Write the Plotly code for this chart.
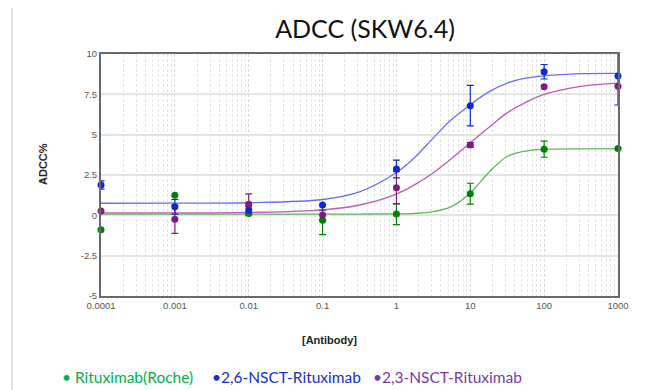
import plotly.graph_objects as go

# ---- data ----
conc = [0.0001, 0.001, 0.01, 0.1, 1, 10, 100, 1000]
roche_y = [-0.9, 1.25, 0.12, -0.3, 0.08, 1.34, 4.1, 4.15]
roche_err = [None, None, None, 0.9, 0.65, 0.65, 0.5, None]
nsct26_y = [1.88, 0.53, 0.33, 0.64, 2.87, 6.8, 8.9, 8.64]
nsct26_err = [0.25, 0.45, 0.2, None, 0.55, 1.25, 0.45, 1.8]
nsct23_y = [0.27, -0.25, 0.68, 0.02, 1.71, 4.36, 7.97, 8.0]
nsct23_err = [None, 0.87, 0.65, 0.3, 1.0, 0.15, None, None]

# fitted curves
fit_x = [0.0001, 0.001, 0.01, 0.1, 0.316, 1, 1.78, 3.16, 5.62, 10, 17.8, 31.6, 56.2, 100, 316, 1000]
roche_fit = [0.08, 0.08, 0.08, 0.08, 0.08, 0.09, 0.12, 0.23, 0.56, 1.39, 2.66, 3.65, 3.98, 4.09, 4.12, 4.13]
nsct26_fit = [0.75, 0.76, 0.78, 0.98, 1.45, 2.65, 3.6, 4.8, 5.95, 6.85, 7.65, 8.2, 8.5, 8.65, 8.78, 8.8]
nsct23_fit = [0.15, 0.15, 0.18, 0.34, 0.64, 1.32, 1.9, 2.64, 3.54, 4.5, 5.45, 6.35, 7.0, 7.5, 8.0, 8.2]

names = ["Rituximab(Roche)", "2,6-NSCT-Rituximab", "2,3-NSCT-Rituximab"]
y_ticks = [10, 7.5, 5, 2.5, 0, -2.5, -5]
x_ticks = conc
x_tick_text = ["0.0001", "0.001", "0.01", "0.1", "1", "10", "100", "1000"]
Y_MIN, Y_MAX = -5, 10

series = [
    (roche_y, roche_err, roche_fit, "#008000", "#5cb85c", "#00b050"),
    (nsct26_y, nsct26_err, nsct26_fit, "#0a2ad6", "#6470f2", "#1030d0"),
    (nsct23_y, nsct23_err, nsct23_fit, "#7e1b7e", "#bb5abb", "#7a3aa8"),
]

# page body has an 8px margin: the figure is sized to fit the 645x390 window
OFF = 8
W, H = 645 - OFF, 390 - OFF
PL, PR, PT, PB = 101, 618, 54, 296  # plot area in window pixels


def px_x(px):
    return (px - PL) / (PR - PL)


def px_y(py):
    return (PB - py) / (PB - PT)


fig = go.Figure()

# curves
for ys, err, fit, mc, lc, tc in series:
    fig.add_trace(go.Scatter(x=fit_x, y=fit, mode="lines", line=dict(color=lc, width=1.3, shape="spline"),
                             hoverinfo="skip", showlegend=False))

# error bars: points whose bar leaves the axis range are drawn clipped
for ys, err, fit, mc, lc, tc in series:
    for clip in (False, True):
        idx = [i for i in range(len(conc)) if err[i] is not None and
               ((ys[i] + err[i] > Y_MAX or ys[i] - err[i] < Y_MIN) == clip)]
        if not idx:
            continue
        fig.add_trace(go.Scatter(
            x=[conc[i] for i in idx], y=[ys[i] for i in idx], mode="markers",
            marker=dict(size=6, color=mc, opacity=0),
            error_y=dict(type="data", array=[err[i] for i in idx], visible=True,
                         color=mc, thickness=1.2, width=3.5),
            cliponaxis=clip, showlegend=False, hoverinfo="skip"))

# markers
for (ys, err, fit, mc, lc, tc), nm in zip(series, names):
    fig.add_trace(go.Scatter(x=conc, y=ys, mode="markers", name=nm,
                             marker=dict(size=7, color=mc), cliponaxis=False, showlegend=False))

# legend as coloured text
leg_x = [60, 210, 371]
for (ys, err, fit, mc, lc, tc), nm, lx, sp in zip(series, names, leg_x, [" ", "", ""]):
    fig.add_annotation(xref="paper", yref="paper", x=px_x(lx), y=px_y(377),
                       xanchor="left", yanchor="middle", showarrow=False,
                       text="•" + sp + nm, font=dict(family="Lato", size=15.5, color=tc))

# axis titles
fig.add_annotation(xref="paper", yref="paper", x=px_x(329), y=px_y(340),
                   xanchor="center", yanchor="middle", showarrow=False,
                   text="<b>[Antibody]</b>", font=dict(family="Liberation Sans", size=11, color="#222"))
fig.add_annotation(xref="paper", yref="paper", x=px_x(43), y=px_y(164),
                   xanchor="center", yanchor="middle", showarrow=False, textangle=-90,
                   text="<b>ADCC%</b>", font=dict(family="Liberation Sans", size=11, color="#222"))

# frame lines of the picture
for px in (12, 643):
    fig.add_shape(type="line", xref="paper", yref="paper", x0=px_x(px), x1=px_x(px),
                  y0=px_y(OFF), y1=px_y(390), line=dict(color="#e2e2e2", width=2))

fig.update_layout(
    width=W, height=H,
    margin=dict(l=PL - OFF, r=W - (PR - OFF), t=PT - OFF, b=H - (PB - OFF)),
    paper_bgcolor="white", plot_bgcolor="white",
    title=dict(text="ADCC (SKW6.4)", x=(365 - OFF) / W, xanchor="center",
               y=1 - (29 - OFF) / H, yanchor="middle",
               font=dict(family="Lato", size=25, color="#111")),
    showlegend=False,
    xaxis=dict(type="log", range=[-4, 3], tickvals=x_ticks, ticktext=x_tick_text,
               showline=True, linecolor="#6a6a6a", linewidth=2, mirror=True,
               showgrid=True, gridcolor="#d8d8d8", griddash="3px,2px", gridwidth=1,
               minor=dict(dtick="D1", showgrid=True, gridcolor="#e3e3e3", griddash="3px,2px", gridwidth=1),
               ticks="", zeroline=False,
               tickfont=dict(family="Liberation Sans", size=9.5, color="#555")),
    yaxis=dict(range=[Y_MIN, Y_MAX], tickvals=y_ticks, ticktext=[str(v) for v in y_ticks],
               showline=True, linecolor="#6a6a6a", linewidth=2, mirror=True,
               showgrid=True, gridcolor="#e4e4e4", gridwidth=1.5, zeroline=False, ticks="",
               tickfont=dict(family="Liberation Sans", size=9.5, color="#555")),
)

fig.write_html("out.html")
